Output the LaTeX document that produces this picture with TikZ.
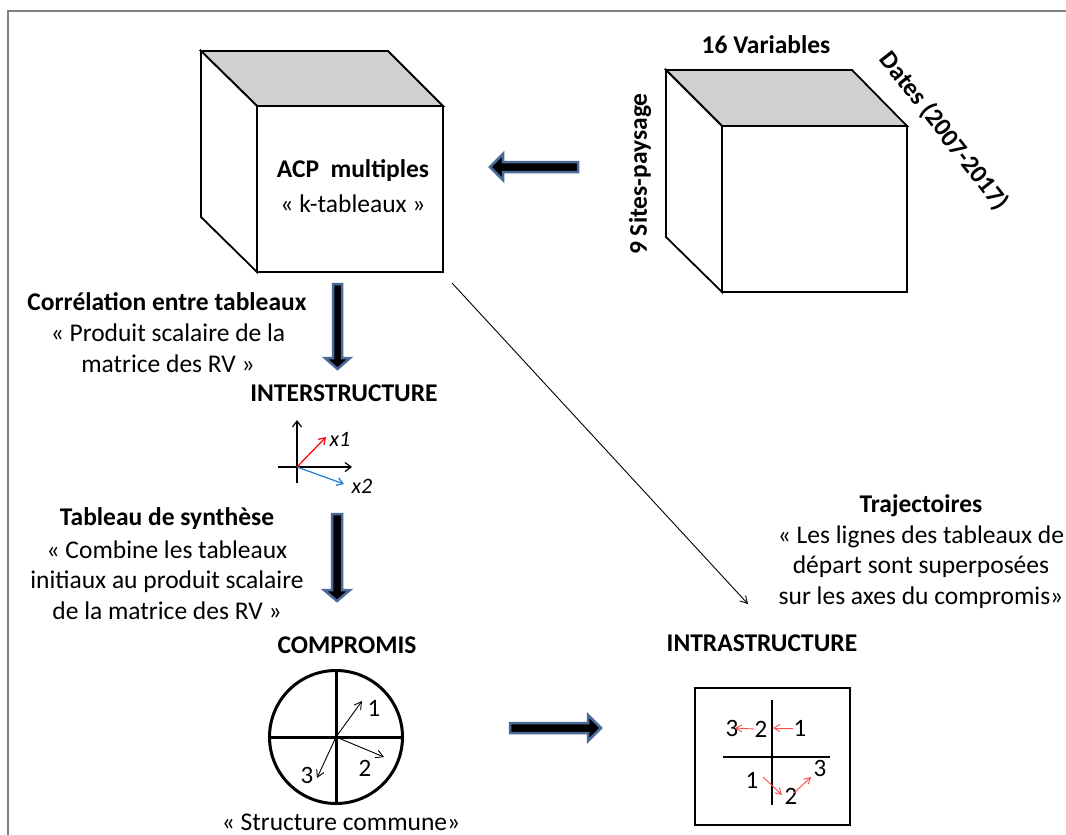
\documentclass[tikz,border=0pt]{standalone}
\usepackage{fontspec}
\setmainfont{Carlito}
\usetikzlibrary{arrows.meta}
\definecolor{arrowblue}{HTML}{4A6A9A}
\definecolor{framegray}{HTML}{7F7F7F}
\definecolor{topgray}{HTML}{D0D0D0}
\definecolor{lred}{HTML}{FF4D4D}
\definecolor{axred}{HTML}{FF0000}
\definecolor{axblue}{HTML}{1F7FD0}
\begin{document}
\begin{tikzpicture}[x=1pt,y=-1pt,
  txt/.style={font=\fontsize{25.5}{30.5}\selectfont, align=center, inner sep=0pt},
  btxt/.style={font=\fontsize{25.5}{30.5}\selectfont\bfseries, align=center, inner sep=0pt},
  cubeline/.style={draw=black, line width=1.8pt, line join=miter},
  blockarrow/.style={fill=black, draw=arrowblue, line width=2.5pt, line join=miter},
  thinarrow/.style={draw=black, line width=0.9pt, -{Straight Barb[length=7pt,width=8pt]}},
  redarrow/.style={draw=lred, line width=0.9pt, -{Straight Barb[length=6pt,width=7pt]}},
  axis/.style={draw=black, line width=1.2pt},
  digit/.style={font=\fontsize{25}{28}\selectfont, inner sep=0pt}
]
\useasboundingbox (0,0) rectangle (1066,835);
\fill[white] (0,0) rectangle (1066,835);
% frame
\draw[framegray, line width=2pt] (8,835) -- (8,11) -- (1066,11);

% left cube
\coordinate (c1a) at (201,51);
\coordinate (c1b) at (388,51);
\coordinate (c1c) at (443,106);
\coordinate (c1d) at (257,106);
\coordinate (c1e) at (257,272);
\coordinate (c1f) at (443,272);
\coordinate (c1g) at (201,217);
\filldraw[cubeline, fill=topgray] (c1a) -- (c1b) -- (c1c) -- (c1d) -- cycle;
\filldraw[cubeline, fill=white] (c1a) -- (c1d) -- (c1e) -- (c1g) -- cycle;
\filldraw[cubeline, fill=white] (c1d) rectangle (c1f);
\node[btxt] (acp) at (353,171) {ACP\ \ multiples};
\node[txt] (ktab) at (353,204) {« k-tableaux »};

% right cube
\coordinate (c2a) at (666,70);
\coordinate (c2b) at (852,70);
\coordinate (c2c) at (907,126);
\coordinate (c2d) at (722,126);
\coordinate (c2e) at (722,292);
\coordinate (c2f) at (907,292);
\coordinate (c2g) at (666,237);
\filldraw[cubeline, fill=topgray] (c2a) -- (c2b) -- (c2c) -- (c2d) -- cycle;
\filldraw[cubeline, fill=white] (c2a) -- (c2d) -- (c2e) -- (c2g) -- cycle;
\filldraw[cubeline, fill=white] (c2d) rectangle (c2f);
\node[btxt] (vars) at (766,45) {16 Variables};
\node[btxt, rotate=-52] (dates) at (944,131) {Dates (2007-2017)};
\node[btxt, rotate=90] (sites) at (640,174) {9 Sites-paysage};

% block arrow left (top)
\draw[blockarrow] (578,162) -- (503,162) -- (503,154) -- (490,167) -- (503,180) -- (503,172) -- (578,172) -- cycle;

% left texts
\node[btxt] (corr) at (167,302) {Corrélation entre tableaux};
\node[txt] (prod) at (168,348) {« Produit scalaire de la\\ matrice des RV »};
\node[btxt] (inter) at (344,393) {INTERSTRUCTURE};
\draw[blockarrow] (333,284) -- (342,284) -- (342,358) -- (350,358) -- (337.5,369) -- (325,358) -- (333,358) -- cycle;

% interstructure axes
\coordinate (io) at (297,467);
\coordinate (itop) at (297,420);
\coordinate (ibot) at (297,483);
\coordinate (ileft) at (278,467);
\coordinate (iright) at (352,467);
\coordinate (ix1) at (326,437);
\coordinate (ix2) at (344,484);
\draw[axis, -{Straight Barb[length=6pt,width=9pt]}] (ibot) -- (itop);
\draw[axis, -{Straight Barb[length=6pt,width=9pt]}] (ileft) -- (iright);
\draw[draw=axred, line width=1.2pt, -{Straight Barb[length=6pt,width=8pt]}] (io) -- (ix1);
\draw[draw=axblue, line width=1.2pt, -{Straight Barb[length=6pt,width=8pt]}] (io) -- (ix2);
\node[font=\fontsize{22}{24}\selectfont\itshape, inner sep=0pt] (lx1) at (340,439) {x1};
\node[font=\fontsize{22}{24}\selectfont\itshape, inner sep=0pt] (lx2) at (362,486) {x2};

% tableau de synthese
\node[btxt] (synth) at (167,519) {Tableau de synthèse};
\node[txt] (comb) at (167,580) {« Combine les tableaux\\ initiaux au produit scalaire\\ de la matrice des RV »};
\draw[blockarrow] (332,514) -- (342,514) -- (342,590) -- (350,590) -- (337,601) -- (324,590) -- (332,590) -- cycle;
\node[btxt] (compr) at (347,645) {COMPROMIS};

% compromis circle
\coordinate (cc) at (336,737);
\draw[line width=3pt] (cc) circle (66.5);
\draw[line width=3pt] (336,670.5) -- (336,803.5);
\draw[line width=3pt] (269.5,737) -- (402.5,737);
\coordinate (ca1) at (362,701);
\coordinate (ca2) at (384,757);
\coordinate (ca3) at (317,778);
\draw[thinarrow] (cc) -- (ca1);
\draw[thinarrow] (cc) -- (ca2);
\draw[thinarrow] (cc) -- (ca3);
\node[digit] (cl1) at (374,708) {1};
\node[digit] (cl2) at (365,768) {2};
\node[digit] (cl3) at (307,775) {3};
\node[txt] (struct) at (341,822) {« Structure commune»};

% bottom block arrow
\draw[blockarrow] (510,723) -- (588,723) -- (588,715) -- (601,728) -- (588,741) -- (588,733) -- (510,733) -- cycle;

% trajectoires
\node[btxt] (traj) at (921,506) {Trajectoires};
\node[txt] (lignes) at (921,567) {« Les lignes des tableaux de\\ départ sont superposées\\ sur les axes du compromis»};
\node[btxt] (intra) at (762,643) {INTRASTRUCTURE};

% diagonal connector
\coordinate (dstart) at (452,283);
\coordinate (dend) at (748,604);
\draw[thinarrow] (dstart) -- (dend);

% intrastructure box
\draw[line width=1.8pt] (695,688) rectangle (850,825);
\draw[line width=1.6pt] (772,700) -- (772,805);
\draw[line width=1.6pt] (723,757) -- (830,757);
\node[digit] (i3) at (732,728) {3};
\node[digit] (i2) at (761,729) {2};
\node[digit] (i1) at (800,728) {1};
\draw[redarrow] (i1.west) -- (773,728);
\draw[redarrow] (i2.west) -- (735,728);
\node[digit] (j1) at (752,780) {1};
\node[digit] (j2) at (791,796) {2};
\node[digit] (j3) at (820,768) {3};
\draw[redarrow] (763,777) -- (782,795);
\draw[redarrow] (794,793) -- (811,777);
\end{tikzpicture}
\end{document}
